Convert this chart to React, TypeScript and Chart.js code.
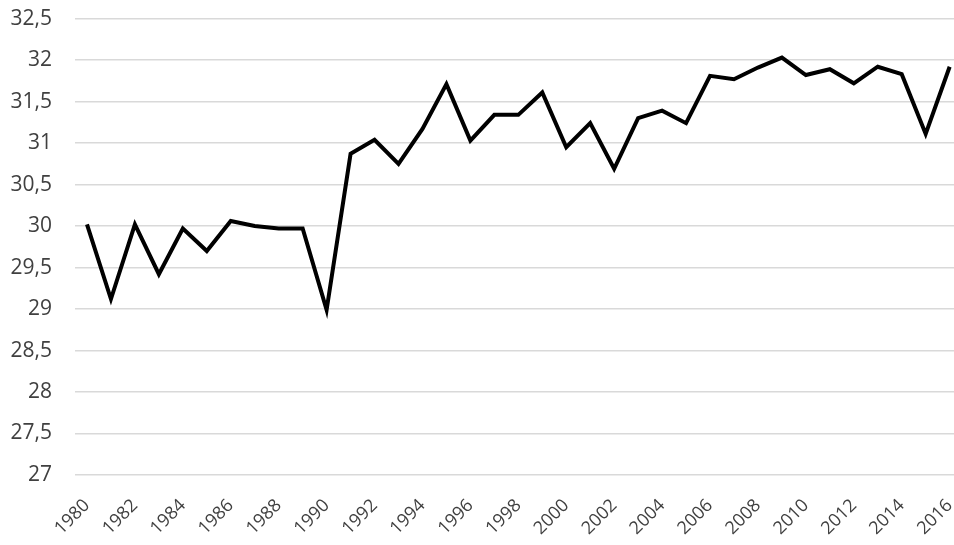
import React, { useEffect, useRef } from 'react';
import { Chart, registerables } from 'chart.js';

Chart.register(...registerables);

const years = [
  '1980', '1981', '1982', '1983', '1984', '1985', '1986', '1987', '1988', '1989',
  '1990', '1991', '1992', '1993', '1994', '1995', '1996', '1997', '1998', '1999',
  '2000', '2001', '2002', '2003', '2004', '2005', '2006', '2007', '2008', '2009',
  '2010', '2011', '2012', '2013', '2014', '2015', '2016',
];

const values = [
  30.02, 29.12, 30.02, 29.42, 29.97, 29.7, 30.06, 30.0, 29.97, 29.97,
  28.99, 30.87, 31.04, 30.75, 31.17, 31.71, 31.03, 31.34, 31.34, 31.61,
  30.95, 31.24, 30.69, 31.3, 31.39, 31.24, 31.81, 31.77, 31.91, 32.03,
  31.82, 31.89, 31.72, 31.92, 31.83, 31.11, 31.92,
];

const yMin = 27;
const yMax = 32.5;
const yStep = 0.5;

const FONT = "'Open Sans', 'Noto Sans', sans-serif";

const App = () => {
  const canvasRef = useRef<HTMLCanvasElement>(null);
  const chartRef = useRef<Chart | null>(null);

  useEffect(() => {
    if (!canvasRef.current) return;
    if (chartRef.current) chartRef.current.destroy();

    chartRef.current = new Chart(canvasRef.current, {
      type: 'line',
      data: {
        labels: years,
        datasets: [
          {
            data: values,
            borderColor: '#000000',
            borderWidth: 4,
            pointRadius: 0,
            tension: 0,
            fill: false,
          },
        ],
      },
      options: {
        animation: false,
        responsive: true,
        maintainAspectRatio: false,
        layout: { padding: { top: 1, right: 6, left: 0, bottom: 0 } },
        plugins: {
          legend: { display: false },
          tooltip: { enabled: false },
        },
        scales: {
          x: {
            offset: true,
            grid: { display: false },
            border: { display: false },
            ticks: {
              autoSkip: false,
              minRotation: 45,
              maxRotation: 45,
              padding: 12,
              color: '#404040',
              font: { family: FONT, size: 18 },
              callback: (_v: any, i: number) => (i % 2 === 0 ? years[i] : ''),
            },
            afterFit: (scale: any) => {
              scale.height = 70;
            },
          },
          y: {
            min: yMin,
            max: yMax,
            border: { display: false },
            grid: { color: '#d9d9d9', lineWidth: 1.5, drawTicks: false },
            ticks: {
              stepSize: yStep,
              padding: 23,
              color: '#404040',
              font: { family: FONT, size: 21 },
              callback: (v: any) => String(v).replace('.', ','),
            },
            afterFit: (scale: any) => {
              scale.width = 75;
            },
          },
        },
      },
    });

    return () => {
      if (chartRef.current) {
        chartRef.current.destroy();
        chartRef.current = null;
      }
    };
  }, []);

  return (
    <div style={{ position: 'fixed', left: 0, top: 0, width: 954, height: 545, overflow: 'hidden', background: '#fff' }}>
      <div style={{ position: 'relative', width: 977, height: 562, marginTop: -17 }}>
        <canvas ref={canvasRef}></canvas>
      </div>
    </div>
  );
};

export default App;
